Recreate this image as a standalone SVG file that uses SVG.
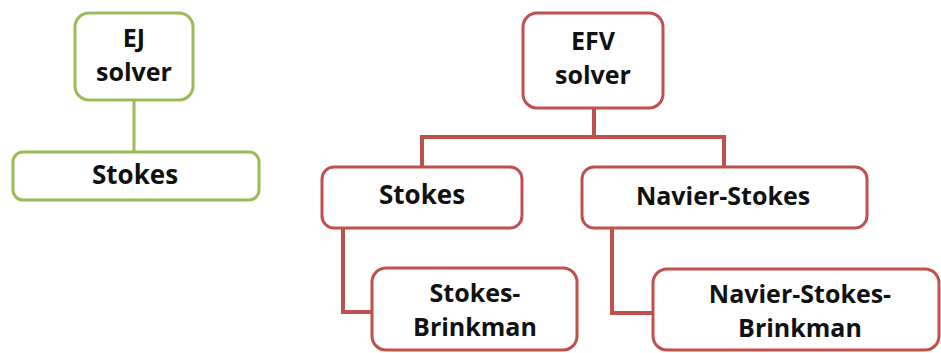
<svg xmlns="http://www.w3.org/2000/svg" width="941" height="353" viewBox="0 0 941 353">
<style>
.g{fill:#fff;stroke:#9BBB59;stroke-width:3}
.r{fill:#fff;stroke:#C0504D;stroke-width:3}
.cg{fill:none;stroke:#9BBB59;stroke-width:3}
.cr{fill:none;stroke:#C0504D;stroke-width:4}
text{font-family:"Open Sans","Noto Sans",sans-serif;font-weight:700;font-size:25px;fill:#111;text-anchor:middle}
.big{font-size:26px}
</style>
<rect width="941" height="353" fill="#fff"/>
<g id="connectors">
<line class="cg" x1="134" y1="100" x2="134" y2="152"/>
<polyline class="cr" points="594,108 594,137"/>
<polyline class="cr" points="422,167 422,137 724,137 724,167"/>
<polyline class="cr" points="343,228 343,312 372,312"/>
<polyline class="cr" points="612,228 612,313 653,313"/>
</g>
<g id="ej-solver">
<rect class="g" x="75" y="13" width="118" height="87" rx="14"/>
<text x="134" y="47">EJ</text>
<text x="134" y="81">solver</text>
</g>
<g id="ej-stokes">
<rect class="g" x="13" y="152" width="246" height="48" rx="10"/>
<text class="big" x="135" y="184">Stokes</text>
</g>
<g id="efv-solver">
<rect class="r" x="523" y="13" width="140" height="95" rx="14"/>
<text x="593" y="50">EFV</text>
<text x="593" y="84">solver</text>
</g>
<g id="efv-stokes">
<rect class="r" x="322" y="167" width="200" height="61" rx="12"/>
<text class="big" x="422" y="204">Stokes</text>
</g>
<g id="navier-stokes">
<rect class="r" x="582" y="167" width="285" height="61" rx="12"/>
<text x="723" y="205">Navier-Stokes</text>
</g>
<g id="stokes-brinkman">
<rect class="r" x="372" y="268" width="205" height="82" rx="14"/>
<text x="475" y="302">Stokes-</text>
<text x="475" y="336">Brinkman</text>
</g>
<g id="navier-stokes-brinkman">
<rect class="r" x="653" y="269" width="286" height="81" rx="14"/>
<text x="800" y="303">Navier-Stokes-</text>
<text x="800" y="337">Brinkman</text>
</g>
</svg>
